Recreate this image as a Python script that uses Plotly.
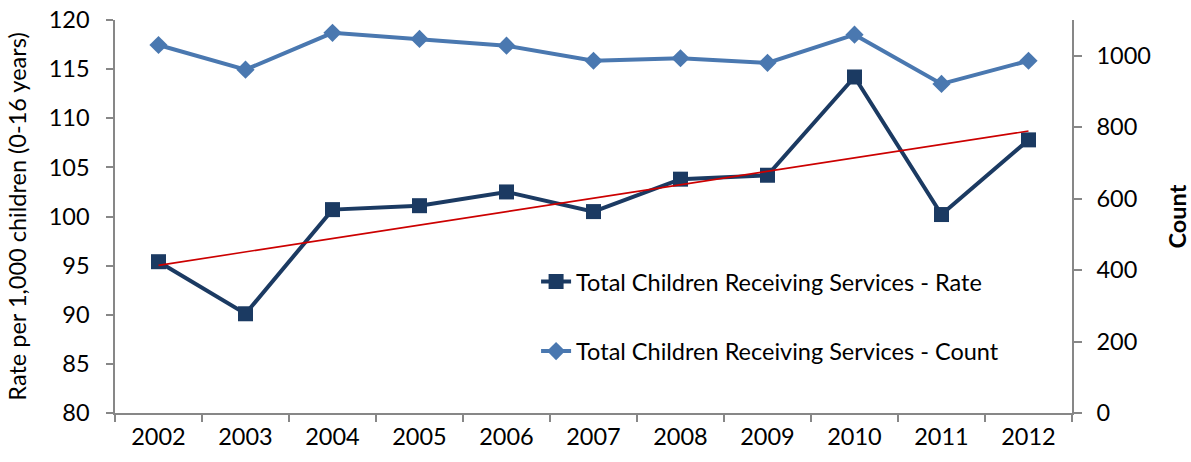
import numpy as np
import plotly.graph_objects as go

# Yearly series
years = ["2002", "2003", "2004", "2005", "2006", "2007", "2008", "2009", "2010", "2011", "2012"]
rate = [95.4, 90.1, 100.7, 101.1, 102.5, 100.5, 103.8, 104.2, 114.2, 100.2, 107.8]
count = [1030, 961, 1064, 1047, 1028, 986, 993, 980, 1059, 921, 986]

# Linear trend of the rate series
idx = np.arange(len(years))
slope, intercept = np.polyfit(idx, rate, 1)
trend = slope * idx + intercept

FONT = "Lato, Carlito, Calibri, sans-serif"
AXIS_GREY = "#878787"
FS = 23.5

fig = go.Figure()

fig.add_trace(go.Scatter(
    x=years, y=rate, mode="lines+markers",
    name="Total Children Receiving Services - Rate",
    line=dict(color="#1B3A62", width=4),
    marker=dict(symbol="square", size=15, color="#1B3A62"),
    legendgroup="rate",
))

fig.add_trace(go.Scatter(
    x=years, y=count, mode="lines+markers", yaxis="y2",
    name="Total Children Receiving Services - Count",
    line=dict(color="#4A78B0", width=4),
    marker=dict(symbol="diamond", size=14, color="#4A78B0"),
    legendgroup="count",
))

fig.add_trace(go.Scatter(
    x=years, y=trend, mode="lines", showlegend=False,
    line=dict(color="#CC0000", width=1.6),
    hoverinfo="skip",
))

fig.update_layout(
    width=1191, height=462,
    margin=dict(l=115, r=119, t=20, b=49, autoexpand=False),
    paper_bgcolor="white", plot_bgcolor="white",
    font=dict(family=FONT, size=FS, color="#000000"),
    showlegend=True,
    legend=dict(
        x=0.44, y=0.39, xanchor="left", yanchor="top",
        bgcolor="rgba(0,0,0,0)", font=dict(size=FS),
        tracegroupgap=36, traceorder="grouped",
    ),
    xaxis=dict(
        type="category", tickson="boundaries", automargin=False,
        range=[-0.5, len(years) - 0.5],
        showline=True, linecolor=AXIS_GREY, linewidth=1.5,
        ticks="outside", ticklen=7, tickcolor=AXIS_GREY, tickwidth=1.5,
        showgrid=False, zeroline=False, ticklabelstandoff=2,
        tickfont=dict(size=FS),
    ),
    yaxis=dict(
        range=[80, 120], dtick=5, automargin=False,
        showline=True, linecolor=AXIS_GREY, linewidth=1.5,
        ticks="outside", ticklen=7, tickcolor=AXIS_GREY, tickwidth=1.5,
        showgrid=False, zeroline=False, ticklabelstandoff=12,
        tickfont=dict(size=FS),
        title=dict(text="Rate per 1,000 children (0-16 years)", font=dict(size=FS)),
    ),
    yaxis2=dict(
        range=[0, 1100], dtick=200, overlaying="y", side="right", automargin=False,
        showline=True, linecolor=AXIS_GREY, linewidth=1.5,
        ticks="outside", ticklen=8, tickcolor=AXIS_GREY, tickwidth=1.5,
        showgrid=False, zeroline=False, ticklabelstandoff=10,
        tickfont=dict(size=FS),
        title=dict(text="<b>Count</b>", font=dict(size=FS), standoff=20),
    ),
)

fig.write_html("out.html")
